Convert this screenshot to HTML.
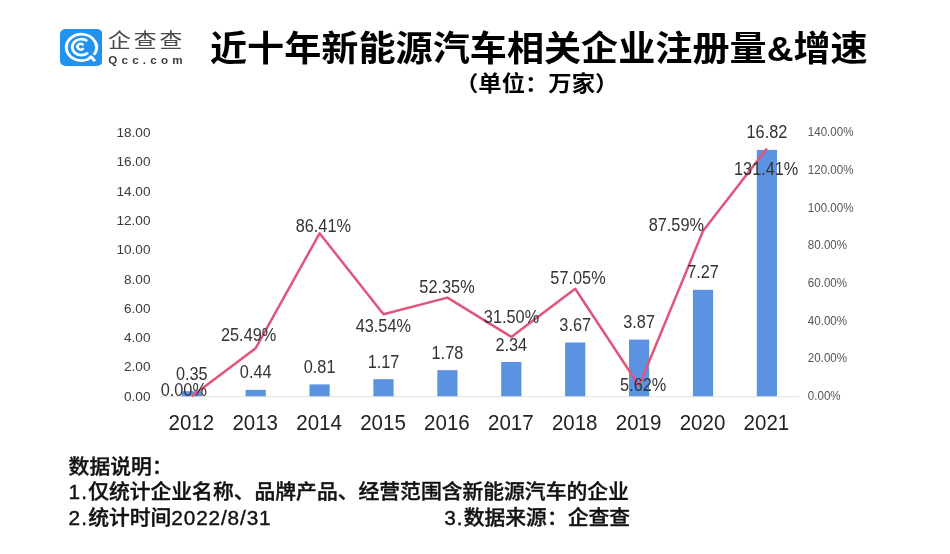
<!DOCTYPE html>
<html lang="zh-CN">
<head>
<meta charset="utf-8">
<title>近十年新能源汽车相关企业注册量&amp;增速</title>
<style>
html,body{margin:0;padding:0;background:#fff;}
body{width:950px;height:554px;position:relative;overflow:hidden;font-family:"Liberation Sans","Noto Sans CJK SC",sans-serif;color:#000;}
.page{position:absolute;left:0;top:0;width:950px;height:554px;background:#fff;overflow:hidden;filter:blur(0.5px);}
svg text{font-family:"Liberation Sans","Noto Sans CJK SC",sans-serif;}
.chart{position:absolute;left:0;top:0;}
.logo{position:absolute;left:59.7px;top:28.6px;width:42.4px;height:37px;}
.brand{position:absolute;left:108.4px;top:28.6px;width:70px;height:42px;color:#4a4a4a;transform-origin:0 0;transform:scale(1.14,1);}
.brand .cn{position:absolute;left:0;top:0;font-size:20px;line-height:24px;font-weight:400;letter-spacing:2.6px;white-space:nowrap;}
.brand .en{position:absolute;left:0.2px;top:26.2px;font-size:10.2px;line-height:12px;font-weight:700;letter-spacing:3.7px;white-space:nowrap;color:#3d3d3d;}
h1{position:absolute;left:209.8px;top:22.7px;margin:0;font-size:37px;line-height:54px;font-weight:700;white-space:nowrap;letter-spacing:0;color:#000;transform-origin:0 50%;transform:scale(1.003,0.945);}
h2{position:absolute;left:455.3px;top:67.6px;margin:0;font-size:23px;line-height:32px;font-weight:700;white-space:nowrap;color:#000;transform-origin:0 50%;transform:scale(1.0145,0.915);}
.notes{position:absolute;left:68.6px;top:453.6px;width:800px;font-size:20.8px;line-height:25.8px;font-weight:500;-webkit-text-stroke:0.4px #111;color:#111;white-space:nowrap;}
.notes p{margin:0;transform-origin:0 50%;transform:scale(1,0.96);}
.notes .src{position:absolute;left:375.6px;top:51.6px;}
.notes .n{letter-spacing:1.1px;}
.notes .d{letter-spacing:0.85px;}
</style>
</head>
<body>
<div class="page">
<svg class="logo" viewBox="0 0 42.4 37" preserveAspectRatio="none">
<rect x="0" y="0" width="42.4" height="37" rx="5.6" ry="5" fill="#2192ee"/>
<g transform="scale(1.146,1)" fill="none" stroke="#fff" stroke-linecap="round">
<path d="M30.19 24.9 A13.2 13.2 0 1 0 24.28 30.36 L27.05 27.7 L29.85 31.3" stroke-width="2.7" stroke-linejoin="round"/>
<path d="M22.9 11.3 A8 8 0 1 0 23.6 24.4" stroke-width="2.6"/>
<path d="M19.9 15.6 A2.8 2.8 0 1 0 19.9 19.8" stroke-width="2.3"/>
</g>
</svg>
<div class="brand"><div class="cn">企查查</div><div class="en">Qcc.com</div></div>
<h1>近十年新能源汽车相关企业注册量&amp;增速</h1>
<h2>（单位：万家）</h2>
<svg class="chart" width="950" height="554" viewBox="0 0 950 554">
<line x1="160" y1="396.6" x2="799" y2="396.6" stroke="#e8e8e8" stroke-width="1.2"/>
<g class="yl" text-anchor="end" font-size="13.6" fill="#3a3a3a">
<text x="150.5" y="400.7">0.00</text>
<text x="150.5" y="371.4">2.00</text>
<text x="150.5" y="342.1">4.00</text>
<text x="150.5" y="312.8">6.00</text>
<text x="150.5" y="283.5">8.00</text>
<text x="150.5" y="254.2">10.00</text>
<text x="150.5" y="224.9">12.00</text>
<text x="150.5" y="195.6">14.00</text>
<text x="150.5" y="166.3">16.00</text>
<text x="150.5" y="137.0">18.00</text>
</g>
<g class="yr" text-anchor="start" font-size="12.6" fill="#555">
<text transform="translate(807.8,400.1) scale(0.92,1)">0.00%</text>
<text transform="translate(807.8,362.4) scale(0.92,1)">20.00%</text>
<text transform="translate(807.8,324.7) scale(0.92,1)">40.00%</text>
<text transform="translate(807.8,286.9) scale(0.92,1)">60.00%</text>
<text transform="translate(807.8,249.2) scale(0.92,1)">80.00%</text>
<text transform="translate(807.8,211.5) scale(0.92,1)">100.00%</text>
<text transform="translate(807.8,173.8) scale(0.92,1)">120.00%</text>
<text transform="translate(807.8,136.1) scale(0.92,1)">140.00%</text>
</g>
<g fill="#5b92e1">
<rect x="181.7" y="391.2" width="20.2" height="5.1"/>
<rect x="245.6" y="389.9" width="20.2" height="6.4"/>
<rect x="309.5" y="384.4" width="20.2" height="11.9"/>
<rect x="373.4" y="379.2" width="20.2" height="17.1"/>
<rect x="437.3" y="370.2" width="20.2" height="26.1"/>
<rect x="501.2" y="362.0" width="20.2" height="34.3"/>
<rect x="565.1" y="342.5" width="20.2" height="53.8"/>
<rect x="629.0" y="339.6" width="20.2" height="56.7"/>
<rect x="692.9" y="289.8" width="20.2" height="106.5"/>
<rect x="756.8" y="149.9" width="20.2" height="246.4"/>
</g>
<polyline points="191.8,396.3 255.7,348.2 319.6,233.3 383.5,314.2 447.4,297.6 511.3,336.9 575.2,288.7 639.1,385.7 703.0,231.1 766.9,148.5" fill="none" stroke="#e0567a" stroke-width="2.5" stroke-linejoin="round" stroke-linecap="butt"/>
<g class="dl" text-anchor="middle" font-size="16.3" fill="#333">
<text transform="translate(191.8,379.7) scale(1,1.07)">0.35</text>
<text transform="translate(255.7,378.4) scale(1,1.07)">0.44</text>
<text transform="translate(319.6,372.9) scale(1,1.07)">0.81</text>
<text transform="translate(383.5,367.7) scale(1,1.07)">1.17</text>
<text transform="translate(447.4,358.7) scale(1,1.07)">1.78</text>
<text transform="translate(511.3,350.5) scale(1,1.07)">2.34</text>
<text transform="translate(575.2,331.0) scale(1,1.07)">3.67</text>
<text transform="translate(639.1,328.1) scale(1,1.07)">3.87</text>
<text transform="translate(703.0,278.3) scale(1,1.07)">7.27</text>
<text transform="translate(766.9,138.4) scale(1,1.07)">16.82</text>
<text transform="translate(183.8,396.1) scale(1,1.07)">0.00%</text>
<text transform="translate(248.6,341.3) scale(1,1.07)">25.49%</text>
<text transform="translate(323.3,231.7) scale(1,1.07)">86.41%</text>
<text transform="translate(383.3,332.4) scale(1,1.07)">43.54%</text>
<text transform="translate(447.0,293.4) scale(1,1.07)">52.35%</text>
<text transform="translate(511.5,323.1) scale(1,1.07)">31.50%</text>
<text transform="translate(578.0,284.0) scale(1,1.07)">57.05%</text>
<text transform="translate(643.2,391.4) scale(1,1.07)">5.62%</text>
<text transform="translate(676.3,230.6) scale(1,1.07)">87.59%</text>
<text transform="translate(766.2,174.8) scale(1,1.07)">131.41%</text>
</g>
<g class="xl" text-anchor="middle" font-size="20.5" fill="#222">
<text transform="translate(191.3,429.8) scale(1,1.08)">2012</text>
<text transform="translate(255.2,429.8) scale(1,1.08)">2013</text>
<text transform="translate(319.1,429.8) scale(1,1.08)">2014</text>
<text transform="translate(383.0,429.8) scale(1,1.08)">2015</text>
<text transform="translate(446.9,429.8) scale(1,1.08)">2016</text>
<text transform="translate(510.8,429.8) scale(1,1.08)">2017</text>
<text transform="translate(574.7,429.8) scale(1,1.08)">2018</text>
<text transform="translate(638.6,429.8) scale(1,1.08)">2019</text>
<text transform="translate(702.5,429.8) scale(1,1.08)">2020</text>
<text transform="translate(766.4,429.8) scale(1,1.08)">2021</text>
</g>
</svg>
<div class="notes">
<p>数据说明：</p>
<p><span class="n">1.</span>仅统计企业名称、品牌产品、经营范围含新能源汽车的企业</p>
<p><span class="n">2.</span>统计时间<span class="d">2022/8/31</span></p>
<p class="src"><span class="n">3.</span>数据来源：企查查</p>
</div>
</div>
</body>
</html>
